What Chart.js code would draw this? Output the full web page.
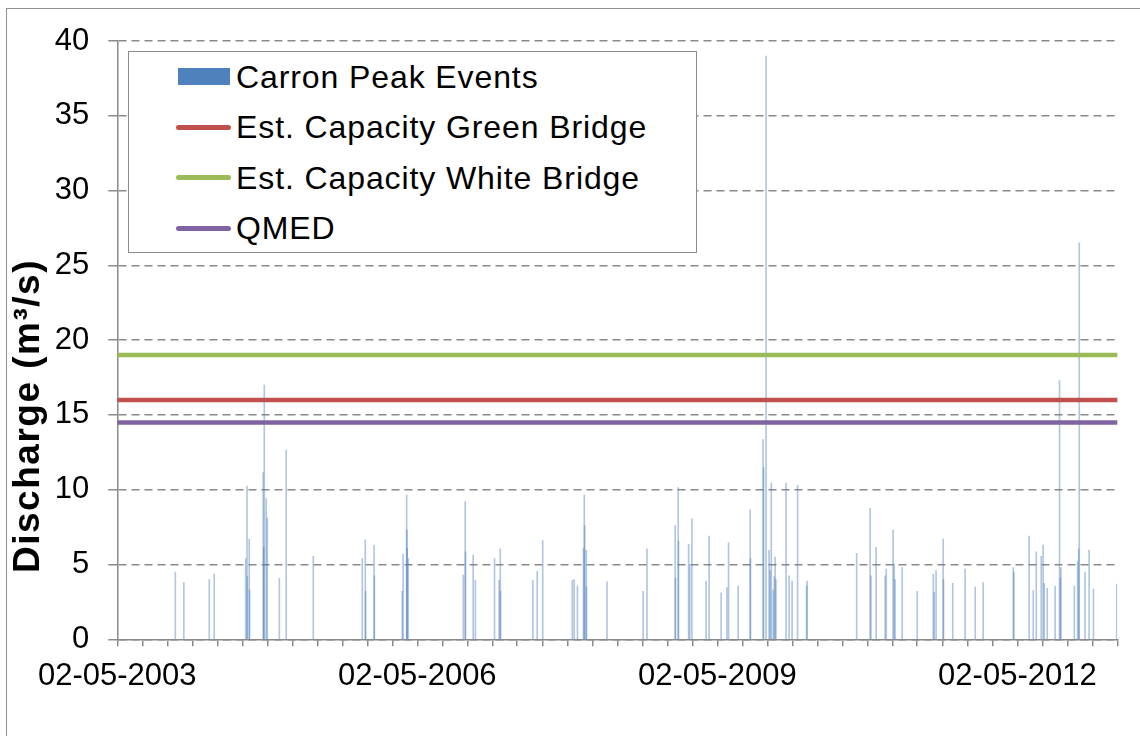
<!DOCTYPE html>
<html>
<head>
<meta charset="utf-8">
<script src="https://cdn.jsdelivr.net/npm/chart.js@4/dist/chart.umd.min.js"></script>
<style>
  html, body { margin: 0; padding: 0; background: #fff; overflow: hidden; }
  #wrap { position: relative; width: 1140px; height: 736px; }
  #frame { position: absolute; left: 6px; top: 8px; width: 1200px; height: 800px; border: 1.5px solid #8f8f8f; }
  #legend {
    position: absolute; left: 128px; top: 51px; width: 567px; height: 200px;
    border: 1.5px solid #8c8c8c; background: #fff;
    font-family: "Liberation Sans", Arial, sans-serif; font-size: 32px; letter-spacing: 0.9px; color: #000;
  }
  .item { position: absolute; left: 0; height: 36px; line-height: 36px; width: 100%; }
  .item .txt { position: absolute; left: 107px; top: 0; white-space: nowrap; }
  .item .sw { position: absolute; }
</style>
</head>
<body>
<div id="wrap">
  <div id="frame"></div>
  <canvas id="chart"></canvas>
  <div id="legend"></div>
</div>
<script>
// Carron peak events (date, discharge m3/s)
const peakDates = [
  "2003-11-30","2003-12-31","2004-04-02","2004-04-20","2004-08-13","2004-08-18","2004-08-19","2004-08-26","2004-08-27",
  "2004-10-16","2004-10-18","2004-10-20","2004-10-27","2004-10-31","2004-12-14","2005-01-08","2005-04-17","2005-10-13",
  "2005-10-24","2005-10-25","2005-11-25","2005-11-26","2006-03-08","2006-03-11","2006-03-24","2006-03-25","2006-03-26",
  "2006-03-30","2006-10-17","2006-10-24","2006-10-25","2006-11-22","2006-11-30","2007-02-08","2007-02-25","2007-03-01",
  "2007-03-02","2007-06-28","2007-07-14","2007-08-03","2007-11-19","2007-11-26","2007-12-08","2007-12-30","2008-01-02",
  "2008-01-03","2008-01-09","2008-01-10","2008-03-25","2008-08-04","2008-08-18","2008-11-29","2008-11-30","2008-12-10",
  "2008-12-11","2009-01-17","2009-01-21","2009-01-29","2009-03-22","2009-04-02","2009-05-16","2009-06-06","2009-06-12",
  "2009-07-17","2009-08-30","2009-08-31","2009-10-16","2009-10-18","2009-10-27","2009-11-07","2009-11-11","2009-11-15",
  "2009-11-22","2009-11-26","2009-11-29","2009-12-02","2010-01-08","2010-01-19","2010-01-30","2010-02-19","2010-03-24",
  "2010-03-26","2010-09-23","2010-11-11","2010-11-14","2010-12-03","2011-01-05","2011-01-09","2011-02-03","2011-02-07",
  "2011-02-10","2011-03-08","2011-05-02","2011-06-30","2011-07-03","2011-07-10","2011-08-05","2011-08-06","2011-09-09",
  "2011-10-24","2011-11-30","2011-12-29","2012-04-17","2012-04-19","2012-06-14","2012-06-29","2012-07-10","2012-07-28",
  "2012-08-04","2012-08-08","2012-08-19","2012-09-17","2012-10-03","2012-10-06","2012-10-08","2012-11-26","2012-12-08",
  "2012-12-12","2012-12-14","2013-01-04","2013-01-19","2013-02-04","2013-04-30"
];
const peakValues = [
  4.5, 3.8, 4.0, 4.35, 5.4, 10.25, 4.2, 6.7, 3.3,
  11.15, 6.15, 17.0, 9.4, 8.1, 4.1, 12.65, 5.55, 5.4,
  6.65, 3.2, 6.3, 4.25, 3.2, 5.7, 9.65, 7.3, 6.1,
  5.4, 4.3, 9.2, 5.85, 5.65, 3.95, 5.4, 3.95, 6.05,
  3.2, 3.95, 4.55, 6.6, 3.95, 4.0, 3.55, 6.1, 9.65,
  7.6, 5.95, 3.5, 3.85, 3.2, 6.05, 7.6, 4.1, 10.15,
  6.55, 6.35, 5.0, 8.05, 3.9, 6.9, 3.1, 3.45, 6.45,
  3.55, 8.65, 5.4, 13.35, 11.5, 39.0, 5.95, 4.6, 10.45,
  3.3, 4.2, 5.5, 4.0, 10.45, 4.25, 3.9, 10.3, 3.55,
  3.9, 5.75, 8.75, 4.25, 6.15, 4.25, 4.7, 7.3, 5.05,
  4.0, 4.8, 3.2, 4.35, 3.15, 4.6, 6.7, 4.0, 3.75,
  4.7, 3.5, 3.8, 4.8, 4.5, 6.9, 3.25, 5.85, 5.55,
  6.3, 3.75, 3.4, 3.55, 17.3, 4.1, 4.8, 3.55, 5.2,
  6.05, 26.5, 4.5, 5.95, 3.35, 3.7
];

// threshold lines
const greenBridgeCapacity = 16;
const whiteBridgeCapacity = 19;
const qmed = 14.5;

// axes
const xStart = "2003-05-02";
const xEnd = "2013-05-02";
const yTicks = [0, 5, 10, 15, 20, 25, 30, 35, 40];

const xMin = Date.parse(xStart);
const xMax = Date.parse(xEnd);

function flatLine(v) {
  return [{ x: xMin, y: v }, { x: xMax, y: v }];
}

function fmtDate(ms) {
  const d = new Date(ms);
  const dd = String(d.getUTCDate()).padStart(2, "0");
  const mm = String(d.getUTCMonth() + 1).padStart(2, "0");
  return dd + "-" + mm + "-" + d.getUTCFullYear();
}

// quarterly ticks, labelled every 3 years
function quarterTicks() {
  const s = new Date(xMin);
  const out = [];
  for (let m = 0; ; m += 3) {
    const t = Date.UTC(s.getUTCFullYear(), s.getUTCMonth() + m, s.getUTCDate());
    if (t > xMax) break;
    out.push({ value: t, major: m % 36 === 0 });
  }
  return out;
}

const GRID = "#8a8a8a";
const FONT = "'Liberation Sans', Arial, sans-serif";

const datasets = [
  {
    type: "bar",
    label: "Carron Peak Events",
    data: peakDates.map((d, i) => ({ x: Date.parse(d), y: peakValues[i] })),
    backgroundColor: "rgba(79,129,189,0.45)",
    legendColor: "#4F81BD",
    barThickness: 1,
    grouped: false,
    order: 1
  },
  {
    type: "line",
    label: "Est. Capacity Green Bridge",
    data: flatLine(greenBridgeCapacity),
    borderColor: "#C0504D",
    borderWidth: 4.5,
    borderCapStyle: "round",
    pointRadius: 0,
    order: 0
  },
  {
    type: "line",
    label: "Est. Capacity White Bridge",
    data: flatLine(whiteBridgeCapacity),
    borderColor: "#9BBB59",
    borderWidth: 4.5,
    borderCapStyle: "round",
    pointRadius: 0,
    order: 0
  },
  {
    type: "line",
    label: "QMED",
    data: flatLine(qmed),
    borderColor: "#8064A2",
    borderWidth: 4.5,
    borderCapStyle: "round",
    pointRadius: 0,
    order: 0
  }
];

// y axis title drawn at its spot in the original (left of the axis, below centre)
const yTitlePlugin = {
  id: "yTitle",
  afterDraw(chart) {
    const ctx = chart.ctx;
    ctx.save();
    ctx.translate(29, 416);
    ctx.rotate(-Math.PI / 2);
    ctx.font = "bold 37px " + FONT;
    ctx.letterSpacing = "1.5px";
    ctx.fillStyle = "#000";
    ctx.textAlign = "center";
    ctx.textBaseline = "middle";
    ctx.fillText("Discharge (m\u00b3/s)", 0, 0);
    ctx.restore();
  }
};

const chart = new Chart(document.getElementById("chart"), {
  type: "bar",
  data: { datasets },
  plugins: [yTitlePlugin],
  options: {
    responsive: true,
    maintainAspectRatio: false,
    animation: false,
    layout: { padding: { top: 41, right: 22.7, left: 0, bottom: 0 } },
    plugins: { legend: { display: false }, tooltip: { enabled: false } },
    scales: {
      x: {
        type: "linear",
        min: xMin,
        max: xMax,
        offset: false,
        afterBuildTicks: (scale) => { scale.ticks = quarterTicks(); },
        afterFit: (scale) => { scale.height = 96.7; },
        ticks: {
          autoSkip: false,
          maxRotation: 0,
          padding: 12,
          color: "#000",
          font: { family: FONT, size: 31 },
          callback: (v, i, ticks) => (ticks[i] && ticks[i].major ? fmtDate(v) : "")
        },
        grid: { offset: false, drawOnChartArea: false, drawTicks: true, tickLength: 7, color: GRID, lineWidth: 1.5 },
        border: { color: GRID, width: 1.5 }
      },
      y: {
        min: 0,
        max: 40,
        afterBuildTicks: (scale) => { scale.ticks = yTicks.map(v => ({ value: v })); },
        afterFit: (scale) => { scale.width = 117.3; },
        ticks: { padding: 19, color: "#000", font: { family: FONT, size: 31 } },
        grid: { color: GRID, lineWidth: 1.5, tickLength: 9, tickBorderDash: [] },
        border: { color: GRID, width: 1.5, dash: [8, 5] },
        title: { display: false }
      }
    }
  }
});

// legend box inside plot, built from the datasets
const legend = document.getElementById("legend");
chart.data.datasets.forEach((ds, i) => {
  const row = document.createElement("div");
  row.className = "item";
  row.style.top = (25 + i * 50.4 - 18) + "px";
  const sw = document.createElement("span");
  sw.className = "sw";
  if (ds.type === "bar") {
    Object.assign(sw.style, { left: "49px", top: "9px", width: "52px", height: "17px", background: ds.legendColor });
  } else {
    Object.assign(sw.style, { left: "47px", top: "15.5px", width: "55px", height: "5px", background: ds.borderColor, borderRadius: "3px" });
  }
  const txt = document.createElement("span");
  txt.className = "txt";
  txt.textContent = ds.label;
  row.appendChild(sw);
  row.appendChild(txt);
  legend.appendChild(row);
});
</script>
</body>
</html>
